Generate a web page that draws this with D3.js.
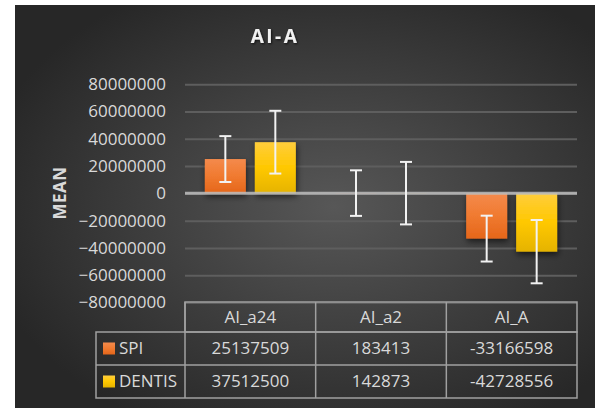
<!DOCTYPE html>
<html>
<head>
<meta charset="utf-8">
<script src="https://cdn.jsdelivr.net/npm/d3@7"></script>
<style>
  body { margin: 0; background: #fff; }
  svg text { font-family: "Open Sans", sans-serif; }
</style>
</head>
<body>
<svg id="chart" width="595" height="408"></svg>
<script>
// chart data
var categories = ["AI_a24", "AI_a2", "AI_A"];
var seriesNames = ["SPI", "DENTIS"];
var spiValues = [25137509, 183413, -33166598];
var dentisValues = [37512500, 142873, -42728556];
// error bar half-widths
var spiErrors = [16800000, 16700000, 16800000];
var dentisErrors = [23000000, 22900000, 23200000];
var yTicks = [80000000, 60000000, 40000000, 20000000, 0, -20000000, -40000000, -60000000, -80000000];

var svg = d3.select("#chart");
var plotLeft = 185, plotRight = 577, plotTop = 84.2, plotBottom = 302.5;

var defs = svg.append("defs");

var bg = defs.append("radialGradient").attr("id", "bg")
    .attr("cx", "0.55").attr("cy", "0.5").attr("r", "0.62");
bg.append("stop").attr("offset", "0%").attr("stop-color", "#575757");
bg.append("stop").attr("offset", "100%").attr("stop-color", "#272727");

function barGrad(id, c1, c2, c3)
{
    var g = defs.append("linearGradient").attr("id", id)
        .attr("x1", 0).attr("y1", 0).attr("x2", 0).attr("y2", 1);
    g.append("stop").attr("offset", "0%").attr("stop-color", c1);
    g.append("stop").attr("offset", "50%").attr("stop-color", c2);
    g.append("stop").attr("offset", "100%").attr("stop-color", c3);
}
barGrad("gSPI", "#f48a4c", "#f07a30", "#e5661a");
barGrad("gDENTIS", "#ffcd3c", "#ffc800", "#e5b300");

var shadow = defs.append("filter").attr("id", "shadow")
    .attr("x", "-30%").attr("y", "-30%").attr("width", "160%").attr("height", "160%");
shadow.append("feDropShadow").attr("dx", 1).attr("dy", 3)
    .attr("stdDeviation", 3).attr("flood-color", "#000").attr("flood-opacity", 0.6);

var tshadow = defs.append("filter").attr("id", "tshadow");
tshadow.append("feDropShadow").attr("dx", 1).attr("dy", 1)
    .attr("stdDeviation", 1).attr("flood-color", "#000").attr("flood-opacity", 0.7);

svg.append("rect")
    .attr("x", 15).attr("y", 5).attr("width", 580).attr("height", 403)
    .attr("fill", "url(#bg)");

var y = d3.scaleLinear().domain([-80000000, 80000000]).range([plotBottom, plotTop]);
var x0 = d3.scaleBand().domain(categories).range([plotLeft, plotRight]);
var x1 = d3.scaleBand().domain(seriesNames).range([0, x0.bandwidth()])
    .paddingInner(0.18).paddingOuter(0.397);
var colors = { SPI: "url(#gSPI)", DENTIS: "url(#gDENTIS)" };

// gridlines
svg.append("g")
    .attr("transform", "translate(" + plotLeft + ",0)")
    .call(d3.axisRight(y).tickValues(yTicks).tickFormat("").tickSize(plotRight - plotLeft))
    .call(function(g) {
        g.select(".domain").remove();
        g.selectAll("line").attr("stroke", "#5e5e5e").attr("stroke-width", 2);
    });

// y axis labels
svg.append("g")
    .attr("transform", "translate(" + 166 + ",0)")
    .call(d3.axisLeft(y).tickValues(yTicks).tickSize(0).tickPadding(0).tickFormat(d3.format("d")))
    .call(function(g) {
        g.select(".domain").remove();
        g.selectAll("text").attr("fill", "#d9d9d9")
            .style("font-size", "17px").style("font-family", "'Open Sans', sans-serif");
    });

var rows = seriesNames.map(function(s, si) {
    var vals = si === 0 ? spiValues : dentisValues;
    var errs = si === 0 ? spiErrors : dentisErrors;
    return categories.map(function(c, i) {
        return { series: s, cat: c, value: vals[i], err: errs[i] };
    });
});
var flat = d3.merge(rows);

// bars
svg.append("g").selectAll("rect")
    .data(flat)
    .enter().append("rect")
    .attr("x", function(d) { return x0(d.cat) + x1(d.series); })
    .attr("y", function(d) { return Math.min(y(d.value), y(0)); })
    .attr("width", x1.bandwidth())
    .attr("height", function(d) { return Math.abs(y(d.value) - y(0)); })
    .attr("fill", function(d) { return colors[d.series]; })
    .attr("filter", "url(#shadow)");

// zero line
svg.append("line")
    .attr("x1", plotLeft).attr("x2", plotRight)
    .attr("y1", y(0)).attr("y2", y(0))
    .attr("stroke", "#bdbdbd").attr("stroke-opacity", 0.85).attr("stroke-width", 3);

// error bars
var eb = svg.append("g").selectAll("g")
    .data(flat)
    .enter().append("g")
    .attr("transform", function(d) { return "translate(" + (x0(d.cat) + x1(d.series) + x1.bandwidth() / 2) + ",0)"; });
eb.append("line")
    .attr("y1", function(d) { return y(d.value + d.err); })
    .attr("y2", function(d) { return y(d.value - d.err); })
    .attr("stroke", "#f2f2f2").attr("stroke-width", 2);
eb.append("line")
    .attr("x1", -6).attr("x2", 6)
    .attr("y1", function(d) { return y(d.value + d.err); })
    .attr("y2", function(d) { return y(d.value + d.err); })
    .attr("stroke", "#f2f2f2").attr("stroke-width", 2);
eb.append("line")
    .attr("x1", -6).attr("x2", 6)
    .attr("y1", function(d) { return y(d.value - d.err); })
    .attr("y2", function(d) { return y(d.value - d.err); })
    .attr("stroke", "#f2f2f2").attr("stroke-width", 2);

// title
svg.append("text")
    .attr("x", 275).attr("y", 43)
    .attr("text-anchor", "middle")
    .attr("fill", "#f2f2f2")
    .attr("filter", "url(#tshadow)")
    .style("font-size", "19px").style("font-weight", "bold").style("letter-spacing", "2.5px")
    .text("AI-A");

// y axis title
svg.append("text")
    .attr("transform", "translate(" + 66 + "," + 193 + ") rotate(-90)")
    .attr("text-anchor", "middle")
    .attr("fill", "#d9d9d9")
    .style("font-size", "17px").style("font-weight", "bold").style("letter-spacing", "0.5px")
    .text("MEAN");

// data table
var tb = svg.append("g");
var lineColor = "#a0a0a0";
var rowY = [302, 332, 365, 398];
var tableLeft = 96;

// header row
tb.append("rect")
    .attr("x", plotLeft).attr("y", rowY[0]).attr("width", plotRight - plotLeft).attr("height", rowY[1] - rowY[0])
    .attr("fill", "none").attr("stroke", lineColor).attr("stroke-width", 1.5);
// body
tb.append("rect")
    .attr("x", tableLeft).attr("y", rowY[1]).attr("width", plotRight - tableLeft).attr("height", rowY[3] - rowY[1])
    .attr("fill", "none").attr("stroke", lineColor).attr("stroke-width", 1.5);
tb.append("line")
    .attr("x1", tableLeft).attr("x2", plotRight).attr("y1", rowY[2]).attr("y2", rowY[2])
    .attr("stroke", lineColor).attr("stroke-width", 1.5);
tb.selectAll("line.col")
    .data(categories)
    .enter().append("line")
    .attr("class", "col")
    .attr("x1", function(d) { return x0(d); }).attr("x2", function(d) { return x0(d); })
    .attr("y1", rowY[0]).attr("y2", rowY[3])
    .attr("stroke", lineColor).attr("stroke-width", 1.5);

tb.selectAll("text.head")
    .data(categories)
    .enter().append("text")
    .attr("class", "head")
    .attr("x", function(d) { return x0(d) + x0.bandwidth() / 2; })
    .attr("y", (rowY[0] + rowY[1]) / 2)
    .attr("dy", "0.35em")
    .attr("text-anchor", "middle")
    .attr("fill", "#d9d9d9")
    .style("font-size", "17px")
    .text(function(d) { return d; });

rows.forEach(function(r, ri) {
    var cy = (rowY[ri + 1] + rowY[ri + 2]) / 2;
    tb.append("rect")
        .attr("x", 103).attr("y", cy - 6).attr("width", 12).attr("height", 12)
        .attr("fill", colors[seriesNames[ri]]);
    tb.append("text")
        .attr("x", 119).attr("y", cy).attr("dy", "0.35em")
        .attr("fill", "#d9d9d9")
        .style("font-size", "17px")
        .text(seriesNames[ri]);
    tb.selectAll("text.v" + ri)
        .data(r)
        .enter().append("text")
        .attr("class", "v" + ri)
        .attr("x", function(d) { return x0(d.cat) + x0.bandwidth() / 2; })
        .attr("y", cy).attr("dy", "0.35em")
        .attr("text-anchor", "middle")
        .attr("fill", "#d9d9d9")
        .style("font-size", "17px")
        .text(function(d) { return d.value; });
});
</script>
</body>
</html>
